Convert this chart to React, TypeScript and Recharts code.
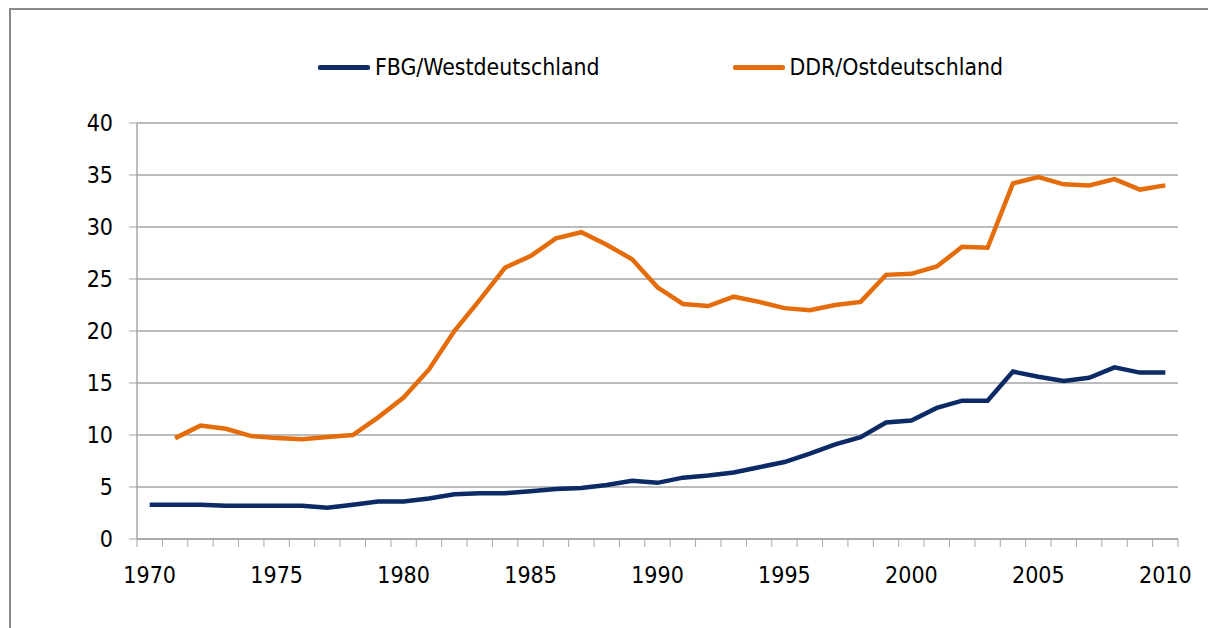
import { LineChart, Line, XAxis, YAxis, CartesianGrid } from "recharts";

const YEARS = [
    1970, 1971, 1972, 1973, 1974, 1975, 1976, 1977, 1978, 1979,
    1980, 1981, 1982, 1983, 1984, 1985, 1986, 1987, 1988, 1989,
    1990, 1991, 1992, 1993, 1994, 1995, 1996, 1997, 1998, 1999,
    2000, 2001, 2002, 2003, 2004, 2005, 2006, 2007, 2008, 2009, 2010,
];

const WEST = [
    3.3, 3.3, 3.3, 3.2, 3.2, 3.2, 3.2, 3.0, 3.3, 3.6,
    3.6, 3.9, 4.3, 4.4, 4.4, 4.6, 4.8, 4.9, 5.2, 5.6,
    5.4, 5.9, 6.1, 6.4, 6.9, 7.4, 8.2, 9.1, 9.8, 11.2,
    11.4, 12.6, 13.3, 13.3, 16.1, 15.6, 15.2, 15.5, 16.5, 16.0, 16.0,
];

const EAST = [
    null, 9.7, 10.9, 10.6, 9.9, 9.7, 9.6, 9.8, 10.0, 11.7,
    13.6, 16.3, 20.0, 23.0, 26.1, 27.2, 28.9, 29.5, 28.3, 26.9,
    24.2, 22.6, 22.4, 23.3, 22.8, 22.2, 22.0, 22.5, 22.8, 25.4,
    25.5, 26.2, 28.1, 28.0, 34.2, 34.8, 34.1, 34.0, 34.6, 33.6, 34.0,
];

const Y_TICKS = [0, 5, 10, 15, 20, 25, 30, 35, 40];
const LABEL_YEARS = [1970, 1975, 1980, 1985, 1990, 1995, 2000, 2005, 2010];

const SERIES = [
    { key: "west", name: "FBG/Westdeutschland", color: "#0b2a66" },
    { key: "east", name: "DDR/Ostdeutschland", color: "#e46c0a" },
];

const FONT = "'DejaVu Sans Condensed', 'Liberation Sans', Arial, sans-serif";
const GRAY = "#a6a6a6";

const data = YEARS.map((year, i) => ({ year, west: WEST[i], east: EAST[i] }));

// tick marks sit between the years, labels on every 5th year
const boundaries = [...YEARS.map((y) => y - 0.5), YEARS[YEARS.length - 1] + 0.5];
const xTicks = [...boundaries, ...LABEL_YEARS].sort((a, b) => a - b);

function YearTick(props: any) {
    const { x, y, payload } = props;
    const v = payload.value as number;
    if (Number.isInteger(v)) {
        return (
            <text x={x} y={y + 44} textAnchor="middle" fill="#000" fontSize={23} fontFamily={FONT}>
                {v}
            </text>
        );
    }
    return <line x1={x} x2={x} y1={y} y2={y + 8} stroke={GRAY} />;
}

export default function App() {
    return (
        <div style={{ position: "absolute", left: 0, top: 0, width: 1208, height: 628, background: "#fff", overflow: "hidden" }}>
            {/* frame */}
            <div
                style={{
                    position: "absolute",
                    left: 9,
                    top: 8,
                    width: 1300,
                    height: 700,
                    borderLeft: "2px solid #8a8a8a",
                    borderTop: "2px solid #8a8a8a",
                }}
            />

            {/* legend */}
            <div
                style={{
                    position: "absolute",
                    left: 318,
                    top: 54,
                    display: "flex",
                    alignItems: "center",
                    gap: 133,
                    fontFamily: FONT,
                    fontSize: 22.8,
                    color: "#000",
                    whiteSpace: "nowrap",
                }}
            >
                {SERIES.map((s) => (
                    <div key={s.key} style={{ display: "flex", alignItems: "center", gap: 5 }}>
                        <span style={{ display: "inline-block", width: 52, height: 5, borderRadius: 2, background: s.color }} />
                        <span>{s.name}</span>
                    </div>
                ))}
            </div>

            <div style={{ position: "absolute", left: 0, top: 0 }}>
                <LineChart
                    width={1208}
                    height={628}
                    data={data}
                    margin={{ top: 123, right: 30, left: 77, bottom: 49 }}
                >
                    <CartesianGrid vertical={false} stroke={GRAY} strokeWidth={1.5} />
                    <XAxis
                        dataKey="year"
                        type="number"
                        domain={[1969.5, 2010.5]}
                        ticks={xTicks}
                        interval={0}
                        tick={<YearTick />}
                        tickLine={false}
                        tickSize={0}
                        tickMargin={0}
                        axisLine={{ stroke: GRAY, strokeWidth: 1.5 }}
                        height={40}
                    />
                    <YAxis
                        domain={[0, 40]}
                        ticks={Y_TICKS}
                        interval={0}
                        width={60}
                        tickSize={8}
                        tickMargin={16}
                        tickLine={{ stroke: GRAY }}
                        axisLine={{ stroke: GRAY, strokeWidth: 1.5 }}
                        tick={{ fill: "#000", fontSize: 23, fontFamily: FONT }}
                    />
                    {SERIES.map((s) => (
                        <Line
                            key={s.key}
                            dataKey={s.key}
                            name={s.name}
                            stroke={s.color}
                            strokeWidth={4.5}
                            dot={false}
                            activeDot={false}
                            isAnimationActive={false}
                        />
                    ))}
                </LineChart>
            </div>
        </div>
    );
}
